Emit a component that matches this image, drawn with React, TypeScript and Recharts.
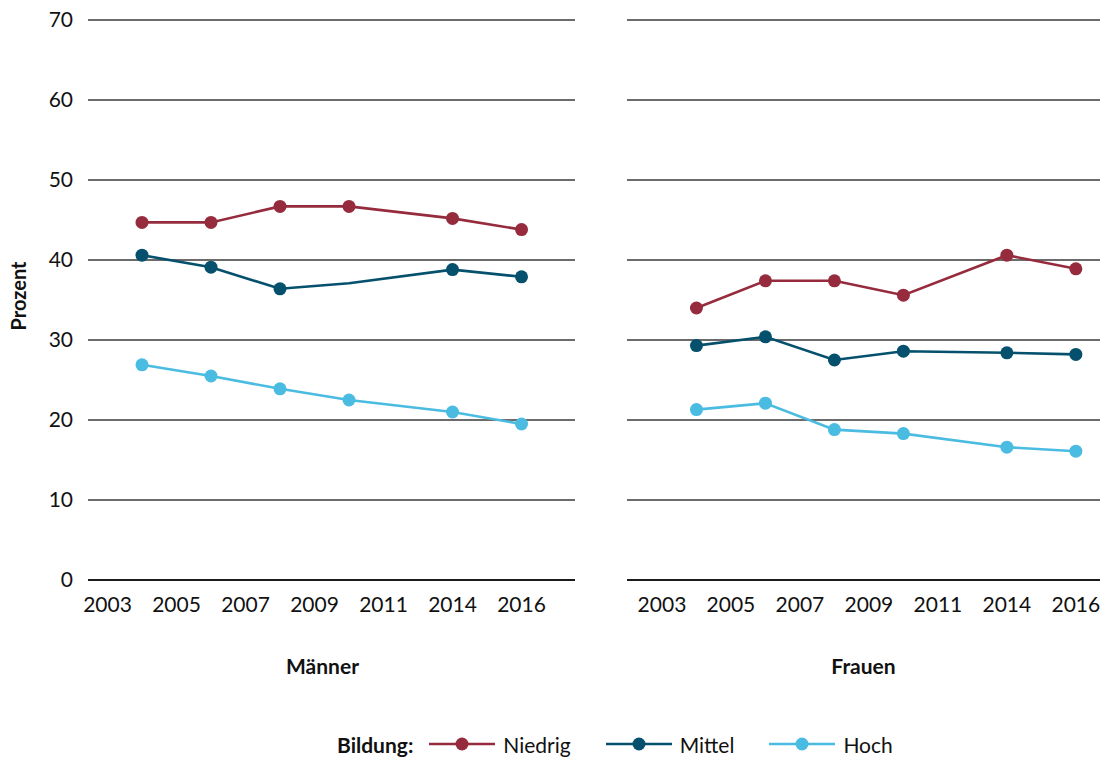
import React from 'react';
import { LineChart, Line, XAxis, YAxis, CartesianGrid, Label } from 'recharts';

// survey years sit on a stretched axis: slot position per year
const surveyYears = [2004, 2006, 2008, 2010, 2014, 2016];
const xSlots = [1, 3, 5, 7, 10, 12];
const tickSlots = [0, 2, 4, 6, 8, 10, 12];
const tickLabels = ['2003', '2005', '2007', '2009', '2011', '2014', '2016'];
const yTicks = [0, 10, 20, 30, 40, 50, 60, 70];

const maennerNiedrig = [44.7, 44.7, 46.7, 46.7, 45.2, 43.8];
const maennerMittel = [40.6, 39.1, 36.4, 37.1, 38.8, 37.9];
const maennerHoch = [26.9, 25.5, 23.9, 22.5, 21.0, 19.5];

const frauenNiedrig = [34.0, 37.4, 37.4, 35.6, 40.6, 38.9];
const frauenMittel = [29.3, 30.4, 27.5, 28.6, 28.4, 28.2];
const frauenHoch = [21.3, 22.1, 18.8, 18.3, 16.6, 16.1];

// points drawn without a marker (Männer, Mittel, 2010)
const maennerMittelNoDot = [2010];

const series = [
  { key: 'niedrig', name: 'Niedrig', color: '#952b3c' },
  { key: 'mittel', name: 'Mittel', color: '#04506d' },
  { key: 'hoch', name: 'Hoch', color: '#4abbe1' },
];

const FONT = 'Lato, "Noto Sans", sans-serif';

function buildRows(niedrig: number[], mittel: number[], hoch: number[]) {
  return surveyYears.map((year, i) => ({
    year,
    slot: xSlots[i],
    niedrig: niedrig[i],
    mittel: mittel[i],
    hoch: hoch[i],
  }));
}

const maennerData = buildRows(maennerNiedrig, maennerMittel, maennerHoch);
const frauenData = buildRows(frauenNiedrig, frauenMittel, frauenHoch);

function makeDot(color: string, skipYears: number[] = []) {
  return (props: any) => {
    const { cx, cy, payload, index } = props;
    if (cx == null || cy == null) return null;
    if (skipYears.includes(payload.year)) return <g key={`d-${index}`} />;
    return <circle key={`d-${index}`} cx={cx} cy={cy} r={6.5} fill={color} stroke="none" />;
  };
}

interface PanelProps {
  data: typeof maennerData;
  title: string;
  titleDx?: number;
  domain: [number, number];
  showY: boolean;
  width: number;
  margin: { top: number; right: number; bottom: number; left: number };
  skip?: Record<string, number[]>;
}

function Panel({ data, title, titleDx = 0, domain, showY, width, margin, skip = {} }: PanelProps) {
  return (
    <LineChart width={width} height={680} data={data} margin={margin}>
      <CartesianGrid vertical={false} stroke="#3a3a3a" strokeWidth={1.3} />
      <XAxis
        dataKey="slot"
        type="number"
        domain={domain}
        ticks={tickSlots}
        tickFormatter={(v: number) => tickLabels[tickSlots.indexOf(v)] ?? ''}
        tickLine={false}
        tickSize={0}
        tickMargin={17}
        axisLine={{ stroke: '#000', strokeWidth: 1.5 }}
        tick={{ fill: '#111', fontSize: 21, fontFamily: FONT }}
        height={100}
        allowDataOverflow
        interval={0}
      >
        <Label
          value={title}
          position="insideBottom"
          offset={6}
          dx={titleDx}
          style={{ fontFamily: FONT, fontWeight: 700, fontSize: 21, fill: '#111' }}
        />
      </XAxis>
      <YAxis
        hide={!showY}
        width={showY ? 88 : 0}
        domain={[0, 70]}
        ticks={yTicks}
        tickLine={false}
        axisLine={false}
        tickSize={0}
        tickMargin={15}
        tick={{ fill: '#111', fontSize: 21, fontFamily: FONT }}
      >
        {showY && (
          <Label
            content={(p: any) => {
              const vb = p.viewBox || {};
              const x = (vb.x ?? 0) + 18;
              const y = (vb.y ?? 0) + (vb.height ?? 0) / 2 - 4;
              return (
                <text
                  x={x}
                  y={y}
                  transform={`rotate(-90 ${x} ${y})`}
                  textAnchor="middle"
                  dominantBaseline="central"
                  style={{ fontFamily: FONT, fontWeight: 700, fontSize: 20, fill: '#111' }}
                >
                  Prozent
                </text>
              );
            }}
          />
        )}
      </YAxis>
      {series.map((s) => (
        <Line
          key={s.key}
          dataKey={s.key}
          name={s.name}
          stroke={s.color}
          strokeWidth={2.6}
          dot={makeDot(s.color, skip[s.key])}
          activeDot={false}
          isAnimationActive={false}
        />
      ))}
    </LineChart>
  );
}

function LegendRow() {
  return (
    <div
      style={{
        position: 'absolute',
        left: 337,
        top: 731,
        height: 26,
        display: 'flex',
        alignItems: 'center',
        fontFamily: FONT,
        fontSize: 21,
        color: '#111',
        whiteSpace: 'nowrap',
      }}
    >
      <span style={{ fontWeight: 700, marginRight: 16 }}>Bildung:</span>
      {series.map((s, i) => (
        <span
          key={s.key}
          style={{ display: 'flex', alignItems: 'center', marginRight: i < series.length - 1 ? 35 : 0 }}
        >
          <svg width={66} height={16} style={{ marginRight: 8 }}>
            <line x1={0} y1={8} x2={66} y2={8} stroke={s.color} strokeWidth={2.6} />
            <circle cx={33} cy={8} r={6.5} fill={s.color} />
          </svg>
          <span>{s.name}</span>
        </span>
      ))}
    </div>
  );
}

export default function App() {
  return (
    <div style={{ position: 'absolute', left: 0, top: 0, width: 1114, height: 757, background: '#fff' }}>
      <div style={{ position: 'absolute', left: 0, top: 0 }}>
        <Panel
          data={maennerData}
          title="Männer"
          titleDx={-9}
          domain={[-0.565, 13.55]}
          showY
          width={600}
          margin={{ top: 20, right: 25, bottom: 0, left: 0 }}
          skip={{ mittel: maennerMittelNoDot }}
        />
      </div>
      <div style={{ position: 'absolute', left: 600, top: 0 }}>
        <Panel
          data={frauenData}
          title="Frauen"
          domain={[-1.014, 12.7]}
          showY={false}
          width={514}
          margin={{ top: 20, right: 14, bottom: 0, left: 27 }}
        />
      </div>
      <LegendRow />
    </div>
  );
}
